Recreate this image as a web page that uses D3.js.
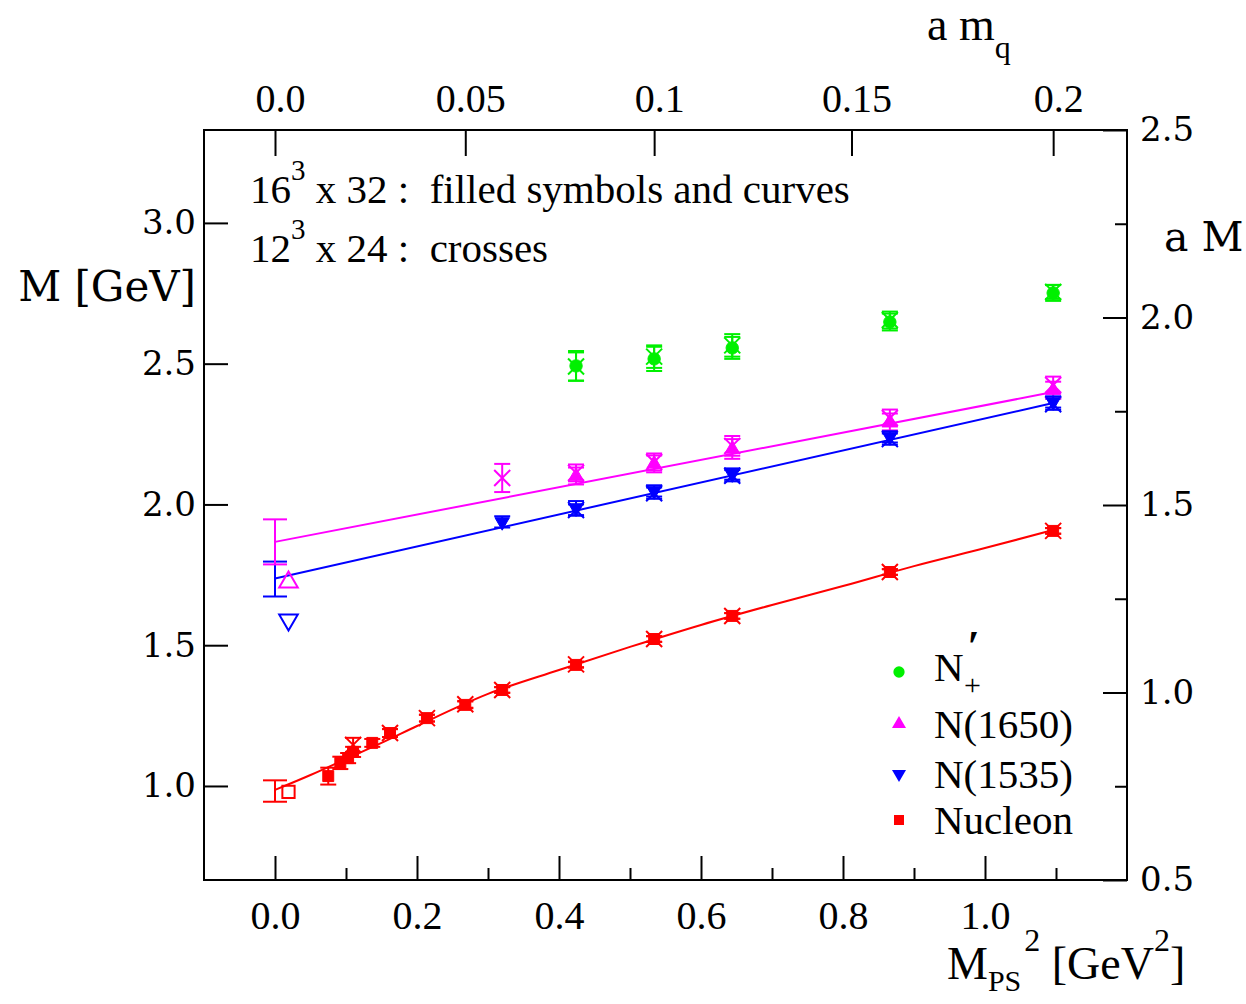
<!DOCTYPE html>
<html>
<head>
<meta charset="utf-8">
<script src="https://cdn.jsdelivr.net/npm/d3@7"></script>
<style>
  body { margin: 0; background: #fff; }
  svg { display: block; }
  .tm { font-family: "Liberation Serif", "Times New Roman", serif; }
  .cs { font-family: "DejaVu Serif", serif; }
</style>
</head>
<body>
<div id="divchart"></div>
<script>
// values, x is M_PS^2 [GeV^2], y is M [GeV]

// 16^3 x 32 : filled symbols
var nucleonX   = [0.075, 0.092, 0.103, 0.110, 0.137, 0.162, 0.214, 0.268, 0.320, 0.424, 0.534, 0.644, 0.866, 1.096];
var nucleonM   = [1.035, 1.082, 1.099, 1.121, 1.153, 1.188, 1.241, 1.288, 1.341, 1.430, 1.522, 1.604, 1.760, 1.906];
var nucleonErr = [0.030, 0.022, 0.018, 0.018, 0.014, 0.014, 0.012, 0.012, 0.010, 0.010, 0.010, 0.010, 0.010, 0.010];

var n1535X   = [0.320, 0.424, 0.534, 0.644, 0.866, 1.096];
var n1535M   = [1.938, 1.987, 2.048, 2.108, 2.240, 2.364];
var n1535Err = [0.020, 0.025, 0.020, 0.020, 0.020, 0.020];

var n1650X   = [0.424, 0.534, 0.644, 0.866, 1.096];
var n1650M   = [2.101, 2.144, 2.197, 2.293, 2.406];
var n1650Err = [0.030, 0.030, 0.035, 0.030, 0.030];

var nprimeX   = [0.424, 0.534, 0.644, 0.866, 1.096];
var nprimeM   = [2.492, 2.517, 2.556, 2.648, 2.751];
var nprimeErr = [0.053, 0.043, 0.039, 0.030, 0.028];

// 12^3 x 24 : crosses
var nucleonXc   = [0.110, 0.162, 0.214, 0.268, 0.320, 0.424, 0.534, 0.644, 0.866, 1.096];
var nucleonMc   = [1.146, 1.188, 1.241, 1.290, 1.341, 1.432, 1.522, 1.604, 1.760, 1.906];
var nucleonErrc = [0.025, 0.014, 0.012, 0.012, 0.010, 0.010, 0.010, 0.010, 0.010, 0.010];

var n1535Xc   = [0.424, 0.534, 0.644, 0.866, 1.096];
var n1535Mc   = [1.980, 2.040, 2.102, 2.232, 2.356];
var n1535Errc = [0.020, 0.020, 0.020, 0.020, 0.020];

var n1650Xc   = [0.320, 0.424, 0.534, 0.644, 0.866, 1.096];
var n1650Mc   = [2.094, 2.112, 2.151, 2.208, 2.307, 2.424];
var n1650Errc = [0.050, 0.030, 0.030, 0.035, 0.030, 0.030];

var nprimeXc   = [0.424, 0.534, 0.644, 0.866, 1.096];
var nprimeMc   = [2.490, 2.525, 2.565, 2.655, 2.755];
var nprimeErrc = [0.050, 0.040, 0.040, 0.030, 0.025];

// chiral limit (error bars at x = 0) and open symbols
var chiralNames = ['nucleon', 'n1535', 'n1650'];
var chiralM     = [0.982, 1.735, 1.867];
var chiralErr   = [0.038, 0.062, 0.080];
var openX       = [0.019, 0.019, 0.019];
var openM       = [0.979, 1.590, 1.724];

// fit curves
var fitN1650   = [[0.0, 1.867], [1.096, 2.399]];
var fitN1535   = [[0.0, 1.737], [1.096, 2.360]];
var fitNucleon = [[0.0, 0.986], [0.05, 1.039], [0.1, 1.096], [0.15, 1.153], [0.2, 1.213], [0.3, 1.327],
                  [0.4, 1.412], [0.5, 1.494], [0.6, 1.572], [0.7, 1.643], [0.8, 1.710], [0.9, 1.781],
                  [1.0, 1.845], [1.096, 1.909]];

// axes
var xMajor = [0, 0.2, 0.4, 0.6, 0.8, 1.0];
var xMinor = [0.1, 0.3, 0.5, 0.7, 0.9, 1.1];
var yMajor = [1.0, 1.5, 2.0, 2.5, 3.0];
var aMajor = [0.5, 1.0, 1.5, 2.0, 2.5];
var aMinor = [0.75, 1.25, 1.75, 2.25];
var amqLabels = ['0.0', '0.05', '0.1', '0.15', '0.2'];
var amqPos    = [0.0, 0.268, 0.534, 0.812, 1.096];   // where a m_q sits on the M_PS^2 axis

var legendNames = ['nprime', 'n1650', 'n1535', 'nucleon'];

(function(chart){

  chart.colors = {nucleon: '#ff0000', n1535: '#0000ff', n1650: '#ff00ff', nprime: '#00f000'};

  chart.margin = {top: 130, right: 119, bottom: 124, left: 204};
  chart.width = 1246 - chart.margin.left - chart.margin.right;
  chart.height = 1004 - chart.margin.top - chart.margin.bottom;

  chart.x = d3.scaleLinear().domain([-0.1, 1.2]).range([0, chart.width]);
  chart.y = d3.scaleLinear().domain([0.666, 3.33]).range([chart.height, 0]);
  chart.yA = d3.scaleLinear().domain([0.5, 2.5]).range([chart.height, 0]);

  // zip arrays into point objects
  chart.zip = function(xs, ms, errs){
    return xs.map(function(x, i){ return {x: x, m: ms[i], err: errs ? errs[i] : 0}; });
  };

  chart.symbolPath = function(kind){
    if (kind === 'circle') return d3.symbol(d3.symbolCircle, 120)();
    if (kind === 'square') return d3.symbol(d3.symbolSquare, 120)();
    if (kind === 'up') return d3.symbol(d3.symbolTriangle, 90)();
    if (kind === 'down') return d3.symbol(d3.symbolTriangle, 90)();
    if (kind === 'cross') return 'M-8,-8L8,8M-8,8L8,-8';
    if (kind === 'openUp') return d3.symbol(d3.symbolTriangle, 150)();
    if (kind === 'openDown') return d3.symbol(d3.symbolTriangle, 150)();
    if (kind === 'openSquare') return d3.symbol(d3.symbolSquare, 150)();
  };

  chart.errorBars = function(g, pts, color, capHalf){
    var eb = g.append('g').attr('stroke', color).attr('stroke-width', 2).attr('fill', 'none');
    pts.forEach(function(p){
      var px = chart.x(p.x), y0 = chart.y(p.m - p.err), y1 = chart.y(p.m + p.err);
      eb.append('line').attr('x1', px).attr('x2', px).attr('y1', y0).attr('y2', y1);
      eb.append('line').attr('x1', px - capHalf).attr('x2', px + capHalf).attr('y1', y0).attr('y2', y0);
      eb.append('line').attr('x1', px - capHalf).attr('x2', px + capHalf).attr('y1', y1).attr('y2', y1);
    });
  };

  chart.markers = function(g, pts, color, kind){
    var open = kind.indexOf('open') === 0 || kind === 'cross';
    g.append('g').selectAll('path').data(pts).enter().append('path')
      .attr('d', chart.symbolPath(kind))
      .attr('transform', function(p){
        var rot = (kind === 'down' || kind === 'openDown') ? ' rotate(180)' : '';
        return 'translate(' + chart.x(p.x) + ',' + chart.y(p.m) + ')' + rot;
      })
      .attr('fill', open ? 'none' : color)
      .attr('stroke', color)
      .attr('stroke-width', open ? 2 : 1);
  };

  chart.build = function(){
    var svg = d3.select('#divchart').append('svg')
      .attr('width', 1246).attr('height', 1004);
    var g = svg.append('g')
      .attr('transform', 'translate(' + chart.margin.left + ',' + chart.margin.top + ')');

    // axes, ticks point inwards
    var tickStyle = function(sel){
      sel.select('.domain').remove();
      sel.selectAll('line').attr('stroke', '#000').attr('stroke-width', 2);
    };

    g.append('g').attr('transform', 'translate(0,' + chart.height + ')')
      .call(d3.axisBottom(chart.x).tickValues(xMajor).tickSize(-24).tickPadding(21).tickFormat(d3.format('.1f')))
      .call(tickStyle)
      .selectAll('text').attr('class', 'tm').attr('font-size', 40).attr('fill', '#000');
    g.append('g').attr('transform', 'translate(0,' + chart.height + ')')
      .call(d3.axisBottom(chart.x).tickValues(xMinor).tickSize(-12).tickFormat(''))
      .call(tickStyle);

    g.append('g')
      .call(d3.axisTop(chart.x).tickValues(amqPos).tickSize(-26).tickPadding(18)
        .tickFormat(function(d, i){ return amqLabels[i]; }))
      .call(tickStyle)
      .selectAll('text').attr('class', 'tm').attr('font-size', 40).attr('fill', '#000').attr('dx', 5);

    g.append('g')
      .call(d3.axisLeft(chart.y).tickValues(yMajor).tickSize(-24).tickPadding(8).tickFormat(d3.format('.1f')))
      .call(tickStyle)
      .selectAll('text').attr('class', 'cs').attr('font-size', 34).attr('fill', '#000');

    g.append('g').attr('transform', 'translate(' + chart.width + ',0)')
      .call(d3.axisRight(chart.yA).tickValues(aMajor).tickSize(-24).tickPadding(13).tickFormat(d3.format('.1f')))
      .call(tickStyle)
      .selectAll('text').attr('class', 'cs').attr('font-size', 34).attr('fill', '#000');
    g.append('g').attr('transform', 'translate(' + chart.width + ',0)')
      .call(d3.axisRight(chart.yA).tickValues(aMinor).tickSize(-12).tickFormat(''))
      .call(tickStyle);

    // frame
    g.append('rect').attr('width', chart.width).attr('height', chart.height)
      .attr('fill', 'none').attr('stroke', '#000').attr('stroke-width', 2);

    // fit curves
    var line = d3.line().x(function(d){ return chart.x(d[0]); }).y(function(d){ return chart.y(d[1]); });
    var curve = d3.line().curve(d3.curveMonotoneX)
      .x(function(d){ return chart.x(d[0]); }).y(function(d){ return chart.y(d[1]); });
    g.append('path').attr('d', line(fitN1650)).attr('stroke', chart.colors.n1650).attr('stroke-width', 2).attr('fill', 'none');
    g.append('path').attr('d', line(fitN1535)).attr('stroke', chart.colors.n1535).attr('stroke-width', 2).attr('fill', 'none');
    g.append('path').attr('d', curve(fitNucleon)).attr('stroke', chart.colors.nucleon).attr('stroke-width', 2).attr('fill', 'none');

    // chiral limit error bars
    chiralNames.forEach(function(name, i){
      chart.errorBars(g, [{x: 0, m: chiralM[i], err: chiralErr[i]}], chart.colors[name], 12);
    });

    // open symbols near the chiral limit
    chart.markers(g, [{x: openX[0], m: openM[0]}], chart.colors.nucleon, 'openSquare');
    chart.markers(g, [{x: openX[1], m: openM[1]}], chart.colors.n1535, 'openDown');
    chart.markers(g, [{x: openX[2], m: openM[2]}], chart.colors.n1650, 'openUp');

    // 12^3 x 24 crosses
    var crosses = [
      ['nprime', chart.zip(nprimeXc, nprimeMc, nprimeErrc)],
      ['n1650', chart.zip(n1650Xc, n1650Mc, n1650Errc)],
      ['n1535', chart.zip(n1535Xc, n1535Mc, n1535Errc)],
      ['nucleon', chart.zip(nucleonXc, nucleonMc, nucleonErrc)]
    ];
    crosses.forEach(function(c){
      chart.errorBars(g, c[1], chart.colors[c[0]], 8);
      chart.markers(g, c[1], chart.colors[c[0]], 'cross');
    });

    // 16^3 x 32 filled symbols
    var filled = [
      ['nprime', chart.zip(nprimeX, nprimeM, nprimeErr), 'circle'],
      ['n1650', chart.zip(n1650X, n1650M, n1650Err), 'up'],
      ['n1535', chart.zip(n1535X, n1535M, n1535Err), 'down'],
      ['nucleon', chart.zip(nucleonX, nucleonM, nucleonErr), 'square']
    ];
    filled.forEach(function(f){
      chart.errorBars(g, f[1], chart.colors[f[0]], 8);
      chart.markers(g, f[1], chart.colors[f[0]], f[2]);
    });

    chart.buildTexts(svg);
    chart.buildLegend(svg);
  };

  // axis titles and the lattice note
  chart.buildTexts = function(svg){
    var t = svg.append('g').attr('fill', '#000');

    t.append('text').attr('class', 'cs').attr('font-size', 42)
      .attr('x', 196).attr('y', 301).attr('text-anchor', 'end').text('M [GeV]');
    t.append('text').attr('class', 'cs').attr('font-size', 41)
      .attr('x', 1164).attr('y', 251).text('a M');

    var top = t.append('text').attr('class', 'tm').attr('font-size', 46).attr('x', 927).attr('y', 40)
      .style('white-space', 'pre');
    top.append('tspan').text('a m');
    top.append('tspan').attr('font-size', 32).attr('dy', 18).text('q');

    var bot = t.append('text').attr('class', 'tm').attr('font-size', 46).attr('x', 947).attr('y', 979)
      .style('white-space', 'pre');
    bot.append('tspan').text('M');
    bot.append('tspan').attr('font-size', 30).attr('dy', 12).text('PS');
    bot.append('tspan').attr('font-size', 32).attr('dy', -40).attr('dx', 3).text('2');
    bot.append('tspan').attr('dy', 28).text(' [GeV');
    bot.append('tspan').attr('font-size', 32).attr('dy', -28).text('2');
    bot.append('tspan').attr('dy', 28).text(']');

    var notes = [['16', ' x 32 :  filled symbols and curves', 203], ['12', ' x 24 :  crosses', 262]];
    notes.forEach(function(n){
      var tx = t.append('text').attr('class', 'tm').attr('font-size', 41).attr('x', 250).attr('y', n[2])
        .style('white-space', 'pre');
      tx.append('tspan').text(n[0]);
      tx.append('tspan').attr('font-size', 29).attr('dy', -23).text('3');
      tx.append('tspan').attr('dy', 23).text(n[1]);
    });
  };

  chart.buildLegend = function(svg){
    var rowsY = [672, 724, 774, 820];
    var kinds = ['circle', 'up', 'down', 'square'];
    var sizes = {circle: 100, up: 85, down: 85, square: 100};
    var shapes = {circle: d3.symbolCircle, up: d3.symbolTriangle, down: d3.symbolTriangle, square: d3.symbolSquare};
    var lg = svg.append('g');
    legendNames.forEach(function(name, i){
      lg.append('path').attr('d', d3.symbol(shapes[kinds[i]], sizes[kinds[i]])())
        .attr('transform', 'translate(899,' + rowsY[i] + ')' + (kinds[i] === 'down' ? ' rotate(180)' : ''))
        .attr('fill', chart.colors[name]);
    });

    // N'_+ in one text element: prime above, plus below
    var np = lg.append('text').attr('class', 'tm').attr('font-size', 41).attr('x', 934).attr('y', 681);
    np.append('tspan').text('N');
    np.append('tspan').attr('font-size', 44).attr('font-weight', 'bold').attr('dx', 4).attr('dy', -20).text('\u2032');
    np.append('tspan').attr('font-size', 30).attr('dx', -16).attr('dy', 34).text('+');

    var labels = ['N(1650)', 'N(1535)', 'Nucleon'];
    labels.forEach(function(l, i){
      lg.append('text').attr('class', 'tm').attr('font-size', 41)
        .attr('x', 934).attr('y', rowsY[i + 1] + 14).text(l);
    });
  };

}(window.chart = window.chart || {}));

chart.build();
</script>
</body>
</html>
